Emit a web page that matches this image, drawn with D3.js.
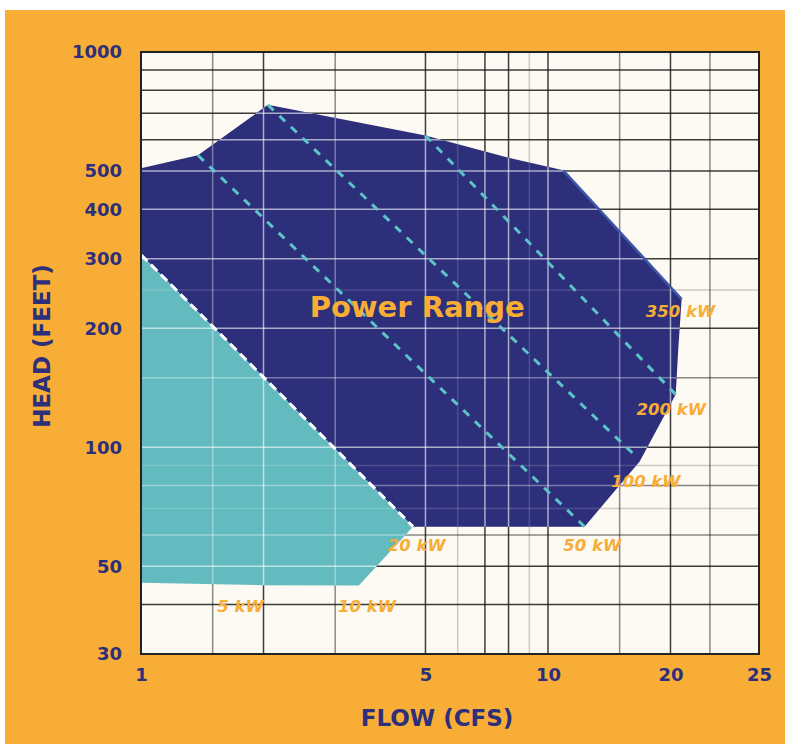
<!DOCTYPE html>
<html>
<head>
<meta charset="utf-8">
<script src="https://cdn.jsdelivr.net/npm/d3@7"></script>
<style>
  body { margin: 0; background: #fff; }
  text { font-family: "DejaVu Sans", sans-serif; font-weight: bold; }
</style>
</head>
<body>
<div id="chart"></div>
<script>
// Axis ticks
const xTickValues = [1, 5, 10, 20, 33];
const xTickLabels = ["1", "5", "10", "20", "25"];
const yTickValues = [30, 50, 100, 200, 300, 400, 500, 1000];

// Grid lines (flow / head values), grouped by shade
const xGridDark = [2, 5, 7, 8, 10, 20];
const xGridMid = [1.5, 3, 15, 25];
const xGridLight = [6, 9];
const yGridDark = [40, 50, 100, 200, 300, 400, 500, 600, 700, 800, 900];
const yGridMid = [60, 80, 150];
const yGridLight = [70, 90, 250];

// Power range outline (flow cfs, head ft)
const rangeFlow = [1, 1.38, 2.05, 5, 8, 10.9, 21.3, 20.9, 20.6, 16.8, 12.3, 4.66, 1];
const rangeHead = [508, 548, 735, 615, 540, 502, 237, 177, 136, 92, 63, 63, 307];

// Small hydro (5-20 kW) region
const smallFlow = [1, 4.66, 3.43, 2, 1];
const smallHead = [307, 63, 44.7, 44.8, 45.4];

// Constant power lines
const lineNames = ["20 kW", "50 kW", "100 kW", "200 kW", "350 kW"];
const lineFlowStart = [1, 1.38, 2.05, 5, 10.9];
const lineHeadStart = [307, 548, 735, 615, 502];
const lineFlowEnd = [4.66, 12.3, 16.6, 20.6, 21.3];
const lineHeadEnd = [63, 63, 94, 136, 237];

// kW labels
const labelNames = ["5 kW", "10 kW", "20 kW", "50 kW", "100 kW", "200 kW", "350 kW"];
const labelFlow = [1.54, 3.05, 4.04, 10.9, 14.3, 16.5, 17.4];
const labelHead = [38.3, 38.3, 54.6, 54.6, 79.3, 121, 213];

const navy = "#2d2f7b", teal = "#63bbbf", orange = "#f8ad36", cream = "#fdfaf4";

const margin = { top: 52, right: 26, bottom: 94, left: 141 },
    width = 785 - margin.left - margin.right,
    height = 748 - margin.top - margin.bottom;

const root = d3.select("#chart").append("svg")
    .attr("width", 785)
    .attr("height", 748);

// orange card
root.append("rect")
    .attr("x", 5).attr("y", 10)
    .attr("width", 780).attr("height", 734)
    .attr("fill", orange);

const svg = root.append("g")
    .attr("transform", "translate(" + margin.left + "," + margin.top + ")");

const x = d3.scaleLog().domain([1, 33]).range([0, width]);
const y = d3.scaleLog().domain([30, 1000]).range([height, 0]);

svg.append("rect")
    .attr("width", width).attr("height", height)
    .attr("fill", cream);

// grid on background
function drawGrid(g, color, op) {
    const sets = [[xGridDark, yGridDark, 1], [xGridMid, yGridMid, 0.6], [xGridLight, yGridLight, 0.25]];
    sets.forEach(([xs, ys, k]) => {
        g.selectAll(null).data(xs).join("line")
            .attr("x1", d => x(d)).attr("x2", d => x(d))
            .attr("y1", 0).attr("y2", height)
            .attr("stroke", color).attr("stroke-opacity", op * k).attr("stroke-width", 1.5);
        g.selectAll(null).data(ys).join("line")
            .attr("y1", d => y(d)).attr("y2", d => y(d))
            .attr("x1", 0).attr("x2", width)
            .attr("stroke", color).attr("stroke-opacity", op * k).attr("stroke-width", 1.5);
    });
}
drawGrid(svg.append("g"), "#1a1a1a", 0.85);

const line = d3.line().x(d => x(d[0])).y(d => y(d[1]));
const rangePts = d3.zip(rangeFlow, rangeHead);
const smallPts = d3.zip(smallFlow, smallHead);

svg.append("path").attr("d", line(rangePts) + "Z").attr("fill", navy);
svg.append("path").attr("d", line(smallPts) + "Z").attr("fill", teal);

// light grid over the filled regions
const clip = svg.append("clipPath").attr("id", "regions");
clip.append("path").attr("d", line(rangePts) + "Z");
clip.append("path").attr("d", line(smallPts) + "Z");
drawGrid(svg.append("g").attr("clip-path", "url(#regions)"), "#ffffff", 0.6);

// constant power lines
lineNames.forEach((name, i) => {
    const pts = [[lineFlowStart[i], lineHeadStart[i]], [lineFlowEnd[i], lineHeadEnd[i]]];
    const p = svg.append("path").attr("d", line(pts)).attr("fill", "none");
    if (name === "20 kW") {
        p.attr("stroke", "#ffffff").attr("stroke-width", 3).attr("stroke-dasharray", "9,5");
    } else if (name === "350 kW") {
        p.attr("stroke", "#3d57a8").attr("stroke-width", 2.5);
    } else {
        p.attr("stroke", "#5cc3c8").attr("stroke-width", 3).attr("stroke-dasharray", "8,8");
    }
});

// frame
svg.append("rect")
    .attr("width", width).attr("height", height)
    .attr("fill", "none").attr("stroke", "#222").attr("stroke-width", 2);

// labels
svg.append("text")
    .attr("x", x(4.77)).attr("y", y(213))
    .attr("text-anchor", "middle")
    .attr("fill", orange).attr("font-size", 29)
    .text("Power Range");

svg.selectAll(".kw").data(labelNames).join("text")
    .attr("class", "kw")
    .attr("x", (d, i) => x(labelFlow[i]))
    .attr("y", (d, i) => y(labelHead[i]))
    .attr("fill", orange).attr("font-size", 16.5).attr("font-style", "italic")
    .text(d => d);

// axes
const xAxis = svg.append("g")
    .attr("transform", "translate(0," + height + ")")
    .call(d3.axisBottom(x).tickValues(xTickValues)
        .tickFormat((d, i) => xTickLabels[i]).tickSize(0).tickPadding(14));
const yAxis = svg.append("g")
    .call(d3.axisLeft(y).tickValues(yTickValues)
        .tickFormat(d3.format("d")).tickSize(0).tickPadding(19));
[xAxis, yAxis].forEach(a => {
    a.select(".domain").remove();
    a.selectAll("text").attr("fill", navy).attr("font-size", 18)
        .attr("font-family", "DejaVu Sans").attr("font-weight", "bold");
});

svg.append("text")
    .attr("x", 437 - margin.left).attr("y", height + 72)
    .attr("text-anchor", "middle")
    .attr("fill", navy).attr("font-size", 23)
    .text("FLOW (CFS)");

svg.append("text")
    .attr("transform", "translate(" + (50 - margin.left) + "," + (346 - margin.top) + ") rotate(-90)")
    .attr("text-anchor", "middle")
    .attr("fill", navy).attr("font-size", 23)
    .text("HEAD (FEET)");
</script>
</body>
</html>
